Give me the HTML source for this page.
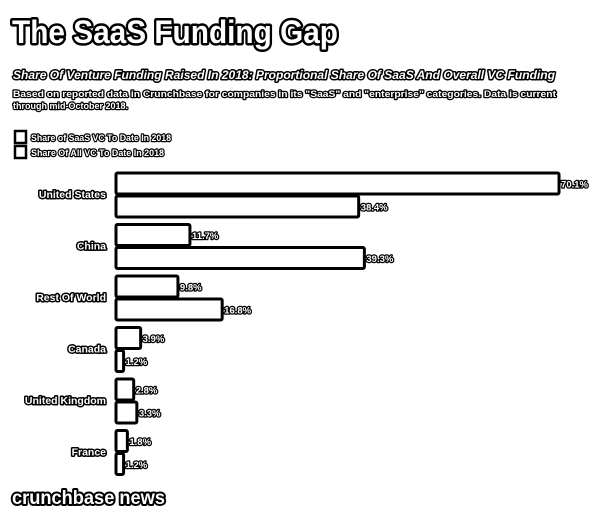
<!DOCTYPE html>
<html><head><meta charset="utf-8"><style>
html,body{margin:0;padding:0;background:#fff;}
svg{display:block;}
.o{fill:#fff;stroke:#000;paint-order:stroke;stroke-linejoin:round;font-family:"Liberation Sans",sans-serif;font-weight:bold;}
</style></head><body>
<svg id="c" width="606" height="519" xmlns="http://www.w3.org/2000/svg">
<text class="o" x="12" y="43" font-size="32" stroke-width="5" textLength="326" lengthAdjust="spacingAndGlyphs">The SaaS Funding Gap</text>
<text class="o" x="13" y="79" font-size="12" font-style="italic" stroke-width="3" textLength="542" lengthAdjust="spacingAndGlyphs">Share Of Venture Funding Raised In 2018: Proportional Share Of SaaS And Overall VC Funding</text>
<text class="o" x="13" y="97" font-size="9.5" stroke-width="2.5" textLength="543" lengthAdjust="spacingAndGlyphs">Based on reported data in Crunchbase for companies in its "SaaS" and "enterprise" categories. Data is current</text>
<text class="o" x="13" y="109" font-size="9.5" stroke-width="2.5" textLength="115" lengthAdjust="spacingAndGlyphs">through mid-October 2018.</text>
<g>
<rect x="15" y="131" width="11" height="12" fill="#fff" stroke="#000" stroke-width="2.5"/>
<text class="o" x="31" y="141" font-size="9.5" stroke-width="2.5" textLength="140" lengthAdjust="spacingAndGlyphs">Share of SaaS VC To Date In 2018</text>
<rect x="15" y="146" width="11" height="12" fill="#fff" stroke="#000" stroke-width="2.5"/>
<text class="o" x="31" y="156" font-size="9.5" stroke-width="2.5" textLength="133" lengthAdjust="spacingAndGlyphs">Share Of All VC To Date In 2018</text>
</g>
<g id="bars"></g>
<text class="o" x="12" y="504" font-size="19" stroke-width="4" textLength="153" lengthAdjust="spacingAndGlyphs">crunchbase news</text>
</svg>
<script>
const categories = ["United States","China","Rest Of World","Canada","United Kingdom","France"];
const saasShare = [70.1, 11.7, 9.8, 3.9, 2.8, 1.8];
const allShare = [38.4, 39.3, 16.8, 1.2, 3.3, 1.2];
const saasLabels = ["70.1%","11.7%","9.8%","3.9%","2.8%","1.8%"];
const allLabels = ["38.4%","39.3%","16.8%","1.2%","3.3%","1.2%"];
const NS="http://www.w3.org/2000/svg";
const x0=116, pxPer=6.32, top0=173, step=51.5, bh=21;
const xs=v=>x0+v*pxPer;
const g=document.getElementById('bars');
function mk(t,a){const e=document.createElementNS(NS,t);for(const k in a)e.setAttribute(k,a[k]);g.appendChild(e);return e;}
categories.forEach((c,i)=>{
  const y=top0+i*step;
  const lab=mk('text',{class:'o',x:106,y:y+bh+4,'font-size':10.5,'stroke-width':3,'text-anchor':'end'});
  lab.textContent=c;
  
  
  [[saasShare,saasLabels,0,'saas'],[allShare,allLabels,bh+2,'all']].forEach(([arr,lbls,off,nm])=>{
    const w=Math.max(xs(arr[i])-x0,4);
    const r=mk('rect',{x:x0,y:y+off,width:w,height:bh,fill:'#fff',stroke:'#000','stroke-width':3,rx:1.5});
    
    
    const t=mk('text',{class:'o',x:x0+w+2,y:y+off+bh/2+4,'font-size':9.5,'stroke-width':2.5});
    t.textContent=lbls[i];
    
    
  });
});
</script>
</body></html>
